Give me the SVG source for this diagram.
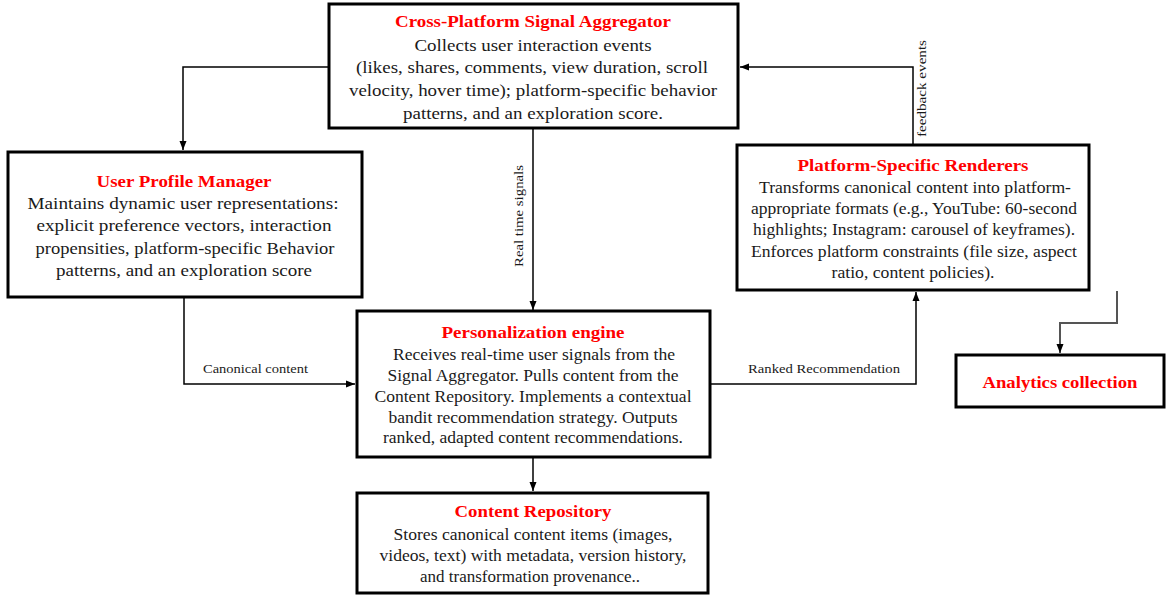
<svg xmlns="http://www.w3.org/2000/svg" width="1169" height="599" viewBox="0 0 1169 599">
<style>
.box{fill:#fff;stroke:#000;stroke-width:3}
.t{font-family:"Liberation Serif",serif;font-weight:bold;font-size:16.5px;fill:#ff0000;text-anchor:middle}
.b{font-family:"Liberation Serif",serif;font-size:16px;fill:#1a1a1a;text-anchor:middle}
.lbl{font-family:"Liberation Serif",serif;font-size:13px;fill:#1a1a1a}
.c{fill:none;stroke:#000;stroke-width:1.5;marker-end:url(#ah)}
.g{fill:none;stroke:#555;stroke-width:2;marker-end:url(#ah)}
</style>
<defs>
<marker id="ah" markerUnits="userSpaceOnUse" markerWidth="10" markerHeight="10" refX="9" refY="5" orient="auto">
<path d="M0,1.5 L9,5 L0,8.5 Z" fill="#000"/>
</marker>
</defs>
<rect width="1169" height="599" fill="#fff"/>
<g id="connectors">
<polyline class="c" points="329,67 183,67 183,150"/>
<polyline class="c" points="533,129 533,310"/>
<polyline class="c" points="913,144 913,67 740,67"/>
<polyline class="c" points="184,298 184,384 355,384"/>
<polyline class="c" points="711,384 916,384 916,292"/>
<polyline class="c" points="533,458 533,491"/>
<polyline class="g" points="1117,291 1117,323 1060,323 1060,353"/>
<text class="lbl" transform="translate(523,267) rotate(-90)" textLength="102" lengthAdjust="spacingAndGlyphs">Real time signals</text>
<text class="lbl" transform="translate(926,137) rotate(-90)" textLength="97" lengthAdjust="spacingAndGlyphs">feedback events</text>
<text class="lbl" x="203" y="373" textLength="105" lengthAdjust="spacingAndGlyphs">Canonical content</text>
<text class="lbl" x="748" y="373" textLength="152" lengthAdjust="spacingAndGlyphs">Ranked Recommendation</text>
</g>
<g id="aggregator">
<rect class="box" x="329" y="4" width="409" height="124"/>
<text class="t" x="533" y="27" textLength="276" lengthAdjust="spacingAndGlyphs">Cross-Platform Signal Aggregator</text>
<text class="b" x="533" y="51" textLength="237" lengthAdjust="spacingAndGlyphs">Collects user interaction events</text>
<text class="b" x="532" y="73" textLength="352" lengthAdjust="spacingAndGlyphs">(likes, shares, comments, view duration, scroll</text>
<text class="b" x="533" y="96" textLength="368" lengthAdjust="spacingAndGlyphs">velocity, hover time); platform-specific behavior</text>
<text class="b" x="533" y="119" textLength="260" lengthAdjust="spacingAndGlyphs">patterns, and an exploration score.</text>
</g>
<g id="user-profile">
<rect class="box" x="8" y="152" width="354" height="145"/>
<text class="t" x="184" y="187" textLength="175" lengthAdjust="spacingAndGlyphs">User Profile Manager</text>
<text class="b" x="183" y="209" textLength="311" lengthAdjust="spacingAndGlyphs">Maintains dynamic user representations:</text>
<text class="b" x="184" y="231" textLength="295" lengthAdjust="spacingAndGlyphs">explicit preference vectors, interaction</text>
<text class="b" x="185" y="254" textLength="299" lengthAdjust="spacingAndGlyphs">propensities, platform-specific Behavior</text>
<text class="b" x="184" y="276" textLength="256" lengthAdjust="spacingAndGlyphs">patterns, and an exploration score</text>
</g>
<g id="renderers">
<rect class="box" x="737" y="145" width="352" height="145"/>
<text class="t" x="913" y="171" textLength="231" lengthAdjust="spacingAndGlyphs">Platform-Specific Renderers</text>
<text class="b" x="915" y="193" textLength="312" lengthAdjust="spacingAndGlyphs">Transforms canonical content into platform-</text>
<text class="b" x="914" y="214" textLength="326" lengthAdjust="spacingAndGlyphs">appropriate formats (e.g., YouTube: 60-second</text>
<text class="b" x="914" y="235" textLength="322" lengthAdjust="spacingAndGlyphs">highlights; Instagram: carousel of keyframes).</text>
<text class="b" x="914" y="257" textLength="326" lengthAdjust="spacingAndGlyphs">Enforces platform constraints (file size, aspect</text>
<text class="b" x="913" y="278" textLength="163" lengthAdjust="spacingAndGlyphs">ratio, content policies).</text>
</g>
<g id="engine">
<rect class="box" x="357" y="311" width="353" height="146"/>
<text class="t" x="533" y="338" textLength="183" lengthAdjust="spacingAndGlyphs">Personalization engine</text>
<text class="b" x="534" y="360" textLength="282" lengthAdjust="spacingAndGlyphs">Receives real-time user signals from the</text>
<text class="b" x="533" y="381" textLength="291" lengthAdjust="spacingAndGlyphs">Signal Aggregator. Pulls content from the</text>
<text class="b" x="533" y="402" textLength="317" lengthAdjust="spacingAndGlyphs">Content Repository. Implements a contextual</text>
<text class="b" x="533" y="423" textLength="289" lengthAdjust="spacingAndGlyphs">bandit recommendation strategy. Outputs</text>
<text class="b" x="533" y="443" textLength="300" lengthAdjust="spacingAndGlyphs">ranked, adapted content recommendations.</text>
</g>
<g id="content-repository">
<rect class="box" x="357" y="493" width="351" height="100"/>
<text class="t" x="533" y="517" textLength="157" lengthAdjust="spacingAndGlyphs">Content Repository</text>
<text class="b" x="533" y="540" textLength="279" lengthAdjust="spacingAndGlyphs">Stores canonical content items (images,</text>
<text class="b" x="533" y="561" textLength="307" lengthAdjust="spacingAndGlyphs">videos, text) with metadata, version history,</text>
<text class="b" x="530" y="582" textLength="220" lengthAdjust="spacingAndGlyphs">and transformation provenance..</text>
</g>
<g id="analytics">
<rect class="box" x="956" y="355" width="208" height="52"/>
<text class="t" x="1060" y="388" textLength="155" lengthAdjust="spacingAndGlyphs">Analytics collection</text>
</g>
</svg>
